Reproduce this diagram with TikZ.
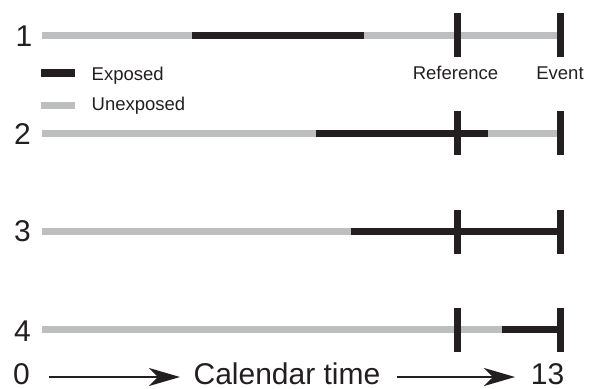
\documentclass[tikz,border=0pt]{standalone}
\usepackage{fontspec}
\setmainfont{Liberation Sans}
\usetikzlibrary{arrows.meta}
\definecolor{expblack}{HTML}{231F20}
\definecolor{unexpgray}{HTML}{BCBEC0}
\tikzset{
  expbar/.style={draw=expblack, line width=7pt, line cap=butt},
  unexpbar/.style={draw=unexpgray, line width=7pt, line cap=butt},
  tickbar/.style={draw=expblack, line width=7pt, line cap=butt},
  bignum/.style={inner sep=0pt, anchor=base, text=expblack, font=\fontsize{30}{34}\selectfont},
  smalltxt/.style={inner sep=0pt, anchor=base, text=expblack, font=\fontsize{18.5}{22}\selectfont},
  timearrow/.style={draw=expblack, line width=2pt, -{Stealth[length=31pt, width=18pt, inset=9pt]}}
}
\begin{document}
\begin{tikzpicture}[x=1pt, y=-1pt]
  \useasboundingbox (0,0) rectangle (593,388);

  % row numbers
  \node[bignum] (n1) at (24,46) {1};
  \node[bignum] (n2) at (22.5,144) {2};
  \node[bignum] (n3) at (22.5,241.5) {3};
  \node[bignum] (n4) at (22.5,341) {4};

  % row 1
  \draw[unexpbar] (42,35.5) -- (192,35.5);
  \draw[expbar]   (192,35.5) -- (364,35.5);
  \draw[unexpbar] (364,35.5) -- (560.5,35.5);
  \draw[tickbar]  (457.5,13) -- (457.5,57);
  \draw[tickbar]  (560.5,13) -- (560.5,57);

  % row 2
  \draw[unexpbar] (42,133.5) -- (316,133.5);
  \draw[expbar]   (316,133.5) -- (488,133.5);
  \draw[unexpbar] (488,133.5) -- (560.5,133.5);
  \draw[tickbar]  (457.5,111) -- (457.5,155);
  \draw[tickbar]  (560.5,111) -- (560.5,155);

  % row 3
  \draw[unexpbar] (42,231.5) -- (351,231.5);
  \draw[expbar]   (351,231.5) -- (560.5,231.5);
  \draw[tickbar]  (457.5,210) -- (457.5,254);
  \draw[tickbar]  (560.5,210) -- (560.5,254);

  % row 4
  \draw[unexpbar] (42,329.5) -- (502,329.5);
  \draw[expbar]   (502,329.5) -- (560.5,329.5);
  \draw[tickbar]  (457.5,308) -- (457.5,352);
  \draw[tickbar]  (560.5,308) -- (560.5,352);

  % tick labels
  \node[smalltxt] (ref) at (455.5,79) {Reference};
  \node[smalltxt] (evt) at (560,79) {Event};

  % legend
  \draw[expbar, line width=8pt]   (41,73) -- (75,73);
  \draw[unexpbar, line width=7pt] (41,105) -- (75,105);
  \node[smalltxt, anchor=base west] (lexp) at (91.5,80) {Exposed};
  \node[smalltxt, anchor=base west] (lunexp) at (91.5,110.5) {Unexposed};

  % time axis
  \node[bignum] (n0) at (21.5,384.5) {0};
  \node[bignum] (cal) at (287,384.5) {Calendar time};
  \node[bignum] (n13) at (547.5,384.5) {13};
  \draw[timearrow] (49,377) coordinate (a0) -- (180,377) coordinate (a1);
  \draw[timearrow] (397,377) coordinate (b0) -- (515,377) coordinate (b1);
\end{tikzpicture}
\end{document}
